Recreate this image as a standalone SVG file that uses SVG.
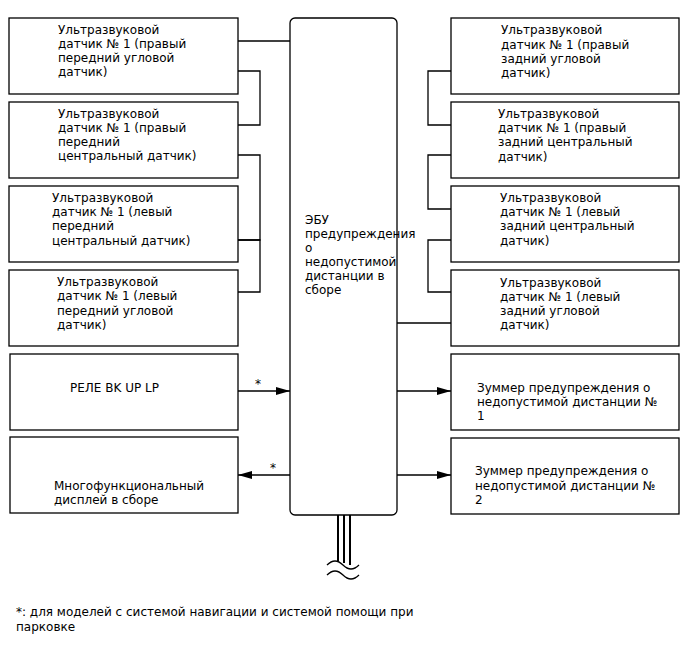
<svg xmlns="http://www.w3.org/2000/svg" width="688" height="658" viewBox="0 0 688 658">
<defs>
<style>
.box{fill:#fff;stroke:#000;stroke-width:1.3}
.ln{fill:none;stroke:#000;stroke-width:1.3}
text{font-family:"DejaVu Sans",sans-serif;font-size:12px;fill:#000}
</style>
<marker id="ah" markerWidth="14" markerHeight="8" refX="14" refY="4" orient="auto" markerUnits="userSpaceOnUse">
<path d="M0,0 L14,4 L0,8 Z" fill="#000"/>
</marker>
</defs>
<rect width="688" height="658" fill="#fff"/>

<g id="connectors">
<path class="ln" d="M238,41 H290"/>
<path class="ln" d="M238,71 H260 V125 H238"/>
<path class="ln" d="M238,155 H260 V240 H238"/>
<path class="ln" d="M238,240 H260 V292 H238"/>
<path class="ln" d="M451,71 H428 V125 H451"/>
<path class="ln" d="M451,155 H428 V209 H451"/>
<path class="ln" d="M451,240 H428 V292 H451"/>
<path class="ln" d="M397,323 H451"/>
<path class="ln" d="M238,391 H290" marker-end="url(#ah)"/>
<path class="ln" d="M290,475 H238" marker-end="url(#ah)"/>
<path class="ln" d="M397,391 H451" marker-end="url(#ah)"/>
<path class="ln" d="M397,475 H451" marker-end="url(#ah)"/>
<text x="255" y="388">*</text>
<text x="270" y="472">*</text>
<path stroke="#000" stroke-width="2" fill="none" d="M338,515 V561 M344,515 V563 M350,515 V565"/>
<path class="ln" d="M327,565 q8,-8 16,0 t16,0"/>
<path class="ln" d="M327,575 q8,-8 16,0 t16,0"/>
</g>

<g id="ecu">
<rect class="box" x="290" y="18" width="107" height="497" rx="5"/>
<text x="305" y="224">ЭБУ</text>
<text x="305" y="238">предупреждения</text>
<text x="305" y="252">о</text>
<text x="305" y="266">недопустимой</text>
<text x="305" y="280">дистанции в</text>
<text x="305" y="294">сборе</text>
</g>

<g id="l1">
<rect class="box" x="9" y="18" width="229" height="76"/>
<text x="58" y="34">Ультразвуковой</text>
<text x="58" y="48">датчик № 1 (правый</text>
<text x="58" y="62">передний угловой</text>
<text x="58" y="76">датчик)</text>
</g>
<g id="l2">
<rect class="box" x="9" y="102" width="229" height="76"/>
<text x="58" y="118">Ультразвуковой</text>
<text x="58" y="132">датчик № 1 (правый</text>
<text x="58" y="146">передний</text>
<text x="58" y="160">центральный датчик)</text>
</g>
<g id="l3">
<rect class="box" x="9" y="186" width="229" height="76"/>
<text x="52" y="202">Ультразвуковой</text>
<text x="52" y="216">датчик № 1 (левый</text>
<text x="52" y="230">передний</text>
<text x="52" y="245">центральный датчик)</text>
</g>
<g id="l4">
<rect class="box" x="9" y="270" width="229" height="76"/>
<text x="57" y="286">Ультразвуковой</text>
<text x="57" y="300">датчик № 1 (левый</text>
<text x="57" y="315">передний угловой</text>
<text x="57" y="329">датчик)</text>
</g>
<g id="relay">
<rect class="box" x="10" y="354" width="228" height="76"/>
<text x="70" y="392">РЕЛЕ BK UP LP</text>
</g>
<g id="display">
<rect class="box" x="10" y="437" width="228" height="76"/>
<text x="54" y="490">Многофункциональный</text>
<text x="54" y="504">дисплей в сборе</text>
</g>

<g id="r1">
<rect class="box" x="451" y="18" width="228" height="76"/>
<text x="501" y="34">Ультразвуковой</text>
<text x="501" y="49">датчик № 1 (правый</text>
<text x="501" y="63">задний угловой</text>
<text x="501" y="77">датчик)</text>
</g>
<g id="r2">
<rect class="box" x="451" y="102" width="228" height="76"/>
<text x="498" y="118">Ультразвуковой</text>
<text x="498" y="132">датчик № 1 (правый</text>
<text x="498" y="146">задний центральный</text>
<text x="498" y="161">датчик)</text>
</g>
<g id="r3">
<rect class="box" x="451" y="186" width="228" height="76"/>
<text x="500" y="202">Ультразвуковой</text>
<text x="500" y="216">датчик № 1 (левый</text>
<text x="500" y="230">задний центральный</text>
<text x="500" y="245">датчик)</text>
</g>
<g id="r4">
<rect class="box" x="451" y="270" width="228" height="76"/>
<text x="500" y="287">Ультразвуковой</text>
<text x="500" y="301">датчик № 1 (левый</text>
<text x="500" y="315">задний угловой</text>
<text x="500" y="329">датчик)</text>
</g>
<g id="buzzer1">
<rect class="box" x="451" y="354" width="228" height="76"/>
<text x="477" y="392">Зуммер предупреждения о</text>
<text x="477" y="406">недопустимой дистанции №</text>
<text x="477" y="420">1</text>
</g>
<g id="buzzer2">
<rect class="box" x="451" y="438" width="228" height="76"/>
<text x="475" y="475">Зуммер предупреждения о</text>
<text x="475" y="490">недопустимой дистанции №</text>
<text x="475" y="504">2</text>
</g>

<g id="footnote">
<text x="16" y="616">*: для моделей с системой навигации и системой помощи при</text>
<text x="16" y="631">парковке</text>
</g>
</svg>
